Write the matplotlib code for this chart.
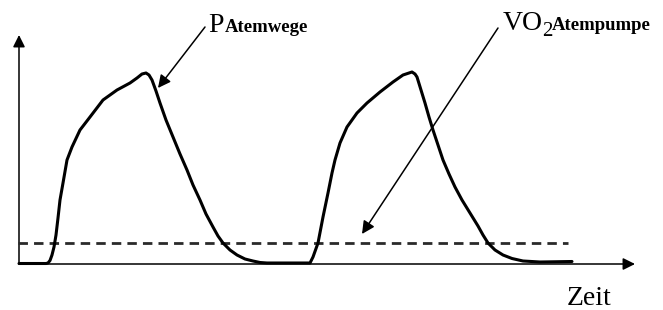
import matplotlib
matplotlib.use("Agg")
import matplotlib.pyplot as plt
from matplotlib.patches import FancyArrowPatch

# ---- data (arbitrary units: time from the y-axis origin, airway pressure) ----
zeit = [0, 27, 29, 31, 33, 35, 37, 39, 41, 44, 48, 53, 61, 71, 84, 98, 111, 118, 123, 127, 130, 133,
        137, 141, 147, 154, 161, 168, 174, 181, 187, 194, 199, 204, 211, 218, 226, 234, 241, 248,
        291, 294, 299, 304, 309, 313, 316, 321, 328, 338, 348, 361, 374, 384, 393, 396,
        398, 402, 406, 410, 414, 419, 424, 430, 436, 443, 451, 459, 464, 469, 476, 484, 493,
        504, 521, 553]
p_atemwege = [0.5, 0.5, 1, 3.5, 9, 17, 29, 46, 64, 81, 104, 117, 134, 147, 164, 174, 181, 186, 190,
              191, 189, 184, 173, 161, 144, 127, 110, 94, 79, 64, 50, 37, 28, 21, 14, 9, 5, 3, 1.5, 1,
              1, 7, 21, 47, 71, 91, 104, 121, 137, 151, 161, 172, 182, 189, 192, 190,
              187, 174, 161, 147, 134, 119, 104, 90, 77, 64, 51, 38, 29, 21, 14, 9, 5.5,
              3, 2, 2.5]
vo2_level = 21          # constant oxygen uptake of the respiratory pump
vo2_range = [-1, 549]   # extent of the dashed line in time units

x_label = "Zeit"
p_label_main, p_label_sub = "P", "Atemwege"
vo2_label_main, vo2_label_num, vo2_label_sub = "VO", "2", "Atempumpe"

# ---- figure ----
W, H = 663, 310
fig = plt.figure(figsize=(W / 100, H / 100), dpi=100)
ax = fig.add_axes([0, 0, 1, 1])
x0 = 19   # pixel of origin
y0 = 264
ax.set_xlim(-x0, W - x0)
ax.set_ylim(y0 - H, y0)
ax.axis("off")

serif = ["Liberation Serif", "DejaVu Serif"]

# axes with arrows
for (xs, ys, xe, ye) in [(0, 0, 616, 0), (0, 0, 0, 229)]:
    ax.add_patch(FancyArrowPatch((xs, ys), (xe, ye), arrowstyle="-|>",
                                 mutation_scale=18, lw=1.1, color="black",
                                 shrinkA=0, shrinkB=0))

# dashed VO2 line
ax.plot(vo2_range, [vo2_level, vo2_level], color="#2a2a2a", lw=2.0,
        dashes=(3.4, 2.2), dash_capstyle="butt")

# pressure curve
ax.plot(zeit, p_atemwege, color="black", lw=2.2, solid_joinstyle="round",
        solid_capstyle="round")

# annotation arrows
ax.add_patch(FancyArrowPatch((186, 237), (139, 176), arrowstyle="-|>",
                             mutation_scale=19, lw=1.1, color="black",
                             shrinkA=0, shrinkB=0))
ax.add_patch(FancyArrowPatch((479, 236), (343, 30), arrowstyle="-|>",
                             mutation_scale=19, lw=1.1, color="black",
                             shrinkA=0, shrinkB=0))

# labels
ax.text(189, 232, p_label_main, fontsize=20, family=serif, va="baseline", ha="left")
ax.text(206, 232, p_label_sub, fontsize=13.5, family=serif, weight="bold",
        va="baseline", ha="left")
ax.text(484, 234, vo2_label_main, fontsize=20, family=serif, va="baseline", ha="left")
ax.text(523, 228, vo2_label_num, fontsize=15, family=serif, va="baseline", ha="left")
ax.text(533, 234, vo2_label_sub, fontsize=13.5, family=serif, weight="bold",
        va="baseline", ha="left")
ax.text(548, -41, x_label, fontsize=20, family=serif, va="baseline", ha="left")

fig.savefig("out.png", dpi=100)
